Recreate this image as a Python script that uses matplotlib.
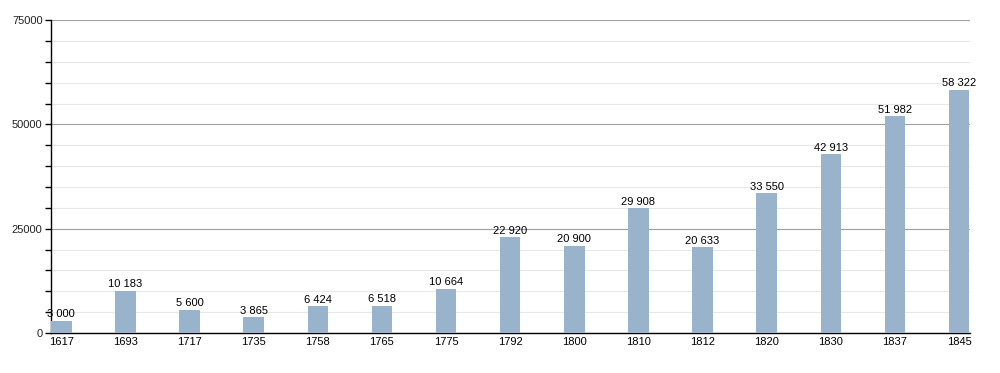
import matplotlib
matplotlib.use("Agg")
import matplotlib.pyplot as plt
from matplotlib.ticker import MultipleLocator
import numpy as np

# ------------------------------------------------------------
# Datos
# ------------------------------------------------------------
anios = ["1617", "1693", "1717", "1735", "1758", "1765", "1775", "1792",
         "1800", "1810", "1812", "1820", "1830", "1837", "1845"]
poblacion = [3000, 10183, 5600, 3865, 6424, 6518, 10664, 22920,
             20900, 29908, 20633, 33550, 42913, 51982, 58322]

plt.rcParams["font.family"] = ["Liberation Sans", "DejaVu Sans"]

fig = plt.figure(figsize=(10, 3.73), dpi=100)
ax = fig.add_axes([0.051, 0.107, 0.919, 0.839])

x = np.arange(len(anios))
ax.bar(x, poblacion, width=0.32, color="#9ab3cd", zorder=3)

for xi, v in zip(x, poblacion):
    etiqueta = f"{v:,}".replace(",", " ")
    ax.text(xi, v + 350, etiqueta, ha="center", va="bottom",
            fontsize=8, color="black", zorder=4)

ax.set_xlim(-0.16, len(anios) - 1 + 0.17)
ax.set_ylim(0, 75000)
ax.set_xticks(x)
ax.set_xticklabels(anios, fontsize=8)
ax.tick_params(axis="x", length=0, pad=3)

ax.yaxis.set_major_locator(MultipleLocator(25000))
ax.yaxis.set_minor_locator(MultipleLocator(5000))
ax.tick_params(axis="y", which="major", length=4, width=1, labelsize=8, pad=2,
               labelcolor="#222222")
ax.tick_params(axis="y", which="minor", length=4, width=1)

ax.grid(axis="y", which="major", color="#a0a0a0", linewidth=0.8, zorder=1)
ax.grid(axis="y", which="minor", color="#e8e8e8", linewidth=0.8, zorder=0)

for lado in ["top", "right"]:
    ax.spines[lado].set_visible(False)
ax.spines["left"].set_linewidth(1)
ax.spines["bottom"].set_linewidth(1)

fig.savefig("out.png", dpi=100, facecolor="white")
